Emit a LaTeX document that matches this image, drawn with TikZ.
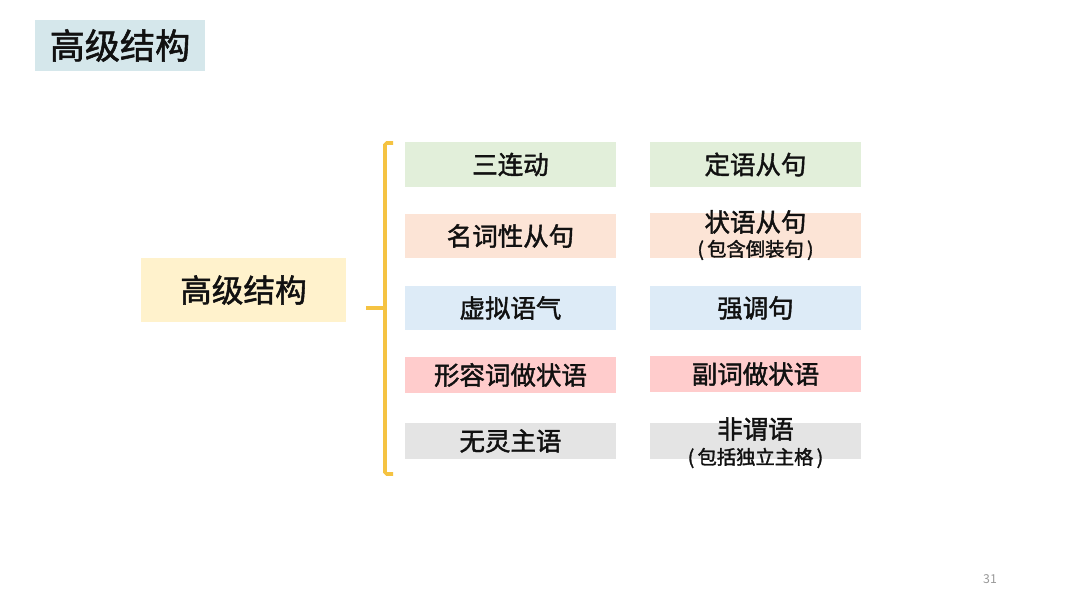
\documentclass[tikz,border=0pt]{standalone}
\usepackage{fontspec}
\usepackage{xcolor}
\usetikzlibrary{positioning}
\newfontfamily\cjk[FakeBold=1.6]{Noto Sans CJK SC}
\newfontfamily\cjklight{Noto Sans CJK SC}
\definecolor{titlebg}{HTML}{D5E7EB}
\definecolor{rootbg}{HTML}{FFF2CC}
\definecolor{greenbg}{HTML}{E2EFDA}
\definecolor{peachbg}{HTML}{FCE4D6}
\definecolor{bluebg}{HTML}{DDEBF7}
\definecolor{pinkbg}{HTML}{FFCCCC}
\definecolor{graybg}{HTML}{E4E4E4}
\definecolor{bracegold}{HTML}{F5C342}
\definecolor{inkdark}{HTML}{111111}
\newlength{\pxu}
\setlength{\pxu}{0.02cm}
\tikzset{
  cell/.style={minimum width=211\pxu, inner sep=0pt, align=center,
    text=inkdark, font=\cjk\fontsize{14.5}{17}\selectfont},
  subline/.style={font=\cjk\fontsize{11}{13}\selectfont},
}

\begin{document}
\begin{tikzpicture}[x=0.02cm,y=-0.02cm]
  \useasboundingbox[fill=white] (0,0) rectangle (1080,608);
  % title
  \node[fill=titlebg, minimum width=170\pxu, minimum height=51\pxu,
    inner sep=0pt, text=inkdark, font=\cjk\fontsize{20}{24}\selectfont]
    (title) at (120,45.5) {高级结构};
  % root
  \node[fill=rootbg, minimum width=205\pxu, minimum height=64\pxu,
    inner sep=0pt, text=inkdark, font=\cjk\fontsize{18}{22}\selectfont]
    (root) at (243.5,290) {高级结构};
  % left column
  \node[cell, fill=greenbg, minimum height=45\pxu] (l1) at (510.5,164.5) {三连动};
  \node[cell, fill=peachbg, minimum height=44\pxu] (l2) at (510.5,236) {名词性从句};
  \node[cell, fill=bluebg,  minimum height=44\pxu] (l3) at (510.5,308) {虚拟语气};
  \node[cell, fill=pinkbg,  minimum height=36\pxu] (l4) at (510.5,375) {形容词做状语};
  \node[cell, fill=graybg,  minimum height=36\pxu] (l5) at (510.5,441) {无灵主语};
  % right column
  \node[cell, fill=greenbg, minimum height=45\pxu] (r1) at (755.5,164.5) {定语从句};
  \node[cell, fill=peachbg, minimum height=45\pxu] (r2) at (755.5,235.5) {};
  \node[cell, fill=bluebg,  minimum height=44\pxu] (r3) at (755.5,308) {强调句};
  \node[cell, fill=pinkbg,  minimum height=36\pxu] (r4) at (755.5,374) {副词做状语};
  \node[cell, fill=graybg,  minimum height=36\pxu] (r5) at (755.5,441) {};
  \node[cell] (r2a) at (755.5,222) {状语从句};
  \node[cell, subline] (r2b) at (755.5,250) {(\,包含倒装句\,)};
  \node[cell] (r5a) at (755.5,429) {非谓语};
  \node[cell, subline] (r5b) at (755.5,458) {(\,包括独立主格\,)};
  % bracket
  \coordinate (btop) at (393,143);
  \coordinate (bbot) at (393,474);
  \coordinate (bmid) at (385,308);
  \draw[bracegold, line width=2pt, rounded corners=1pt]
    (btop) -- (385,143) -- (385,474) -- (bbot);
  \draw[bracegold, line width=2pt] (root.east) ++(20,18) coordinate (bstub) -- (bmid);
  % page number
  \node[text=gray!80, font=\cjklight\fontsize{7}{8}\selectfont] (pageno) at (990,579) {31};
\end{tikzpicture}
\end{document}
